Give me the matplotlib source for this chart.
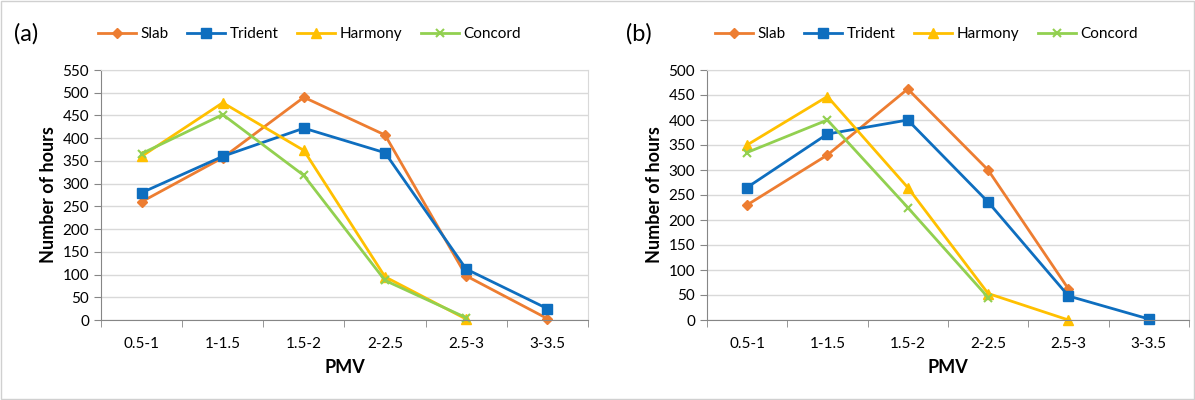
import numpy as np
import matplotlib.pyplot as plt
from matplotlib.patches import Rectangle

plt.rcParams['font.family'] = ['Lato', 'DejaVu Sans']

categories = ['0.5-1', '1-1.5', '1.5-2', '2-2.5', '2.5-3', '3-3.5']
series_names = ['Slab', 'Trident', 'Harmony', 'Concord']

# panel (a)
a_slab = [260, 357, 490, 407, 97, 3]
a_trident = [280, 360, 422, 368, 112, 25]
a_harmony = [360, 478, 373, 95, 2]
a_concord = [366, 452, 318, 87, 5]

# panel (b)
b_slab = [230, 330, 462, 300, 62]
b_trident = [265, 372, 400, 236, 48, 2]
b_harmony = [350, 447, 265, 53, 0]
b_concord = [335, 400, 225, 45]

colors = ['#ED7D31', '#0E6EBF', '#FFC000', '#92D050']
markers = ['D', 's', '^', 'x']
msizes = [5, 6.5, 7, 6]

fig = plt.figure(figsize=(11.95, 4), dpi=100)
fig.patches.append(Rectangle((0.001, 0.003), 0.998, 0.994, transform=fig.transFigure,
                             fill=False, edgecolor='#d0d0d0', lw=1))


def draw(ax, data, ymax, label, lx, legx):
    x = np.arange(len(categories))
    for vals, name, c, m, ms in zip(data, series_names, colors, markers, msizes):
        ax.plot(x[:len(vals)], vals, color=c, marker=m, markersize=ms, lw=2,
                label=name, markeredgewidth=1.5 if m == 'x' else 1, clip_on=False)
    ax.set_xlim(-0.5, len(categories) - 0.5)
    ax.set_ylim(0, ymax)
    ax.set_yticks(np.arange(0, ymax + 1, 50))
    ax.set_xticks(x)
    ax.set_xticklabels(categories, fontsize=11)
    ax.set_xticks(np.arange(-0.5, len(categories)), minor=True)
    ax.tick_params(axis='x', which='major', length=0, pad=12)
    ax.tick_params(axis='x', which='minor', length=5, color='#868686')
    ax.tick_params(axis='y', length=5, color='#868686', labelsize=11)
    ax.grid(axis='y', color='#d9d9d9', lw=1)
    ax.set_axisbelow(True)
    for s in ['left', 'bottom']:
        ax.spines[s].set_color('#868686')
    for s in ['top', 'right']:
        ax.spines[s].set_color('#d9d9d9')
    ax.set_ylabel('Number of hours', fontsize=13, fontweight='bold')
    ax.set_xlabel('PMV', fontsize=13, fontweight='bold', labelpad=6)
    fig.text(lx, 0.915, label, fontsize=17, va='center')
    ax.legend(loc='center left', bbox_to_anchor=(legx, 0.915),
              bbox_transform=fig.transFigure, ncol=4, frameon=False,
              fontsize=11, handlelength=2.5, handletextpad=0.3, columnspacing=1.2,
              borderaxespad=0, borderpad=0)


ax1 = fig.add_axes([0.0845, 0.2, 0.4075, 0.625])
draw(ax1, [a_slab, a_trident, a_harmony, a_concord], 550, '(a)', 0.012, 0.082)
ax2 = fig.add_axes([0.5915, 0.2, 0.4035, 0.625])
draw(ax2, [b_slab, b_trident, b_harmony, b_concord], 500, '(b)', 0.524, 0.598)

fig.savefig('out.png', dpi=100)
